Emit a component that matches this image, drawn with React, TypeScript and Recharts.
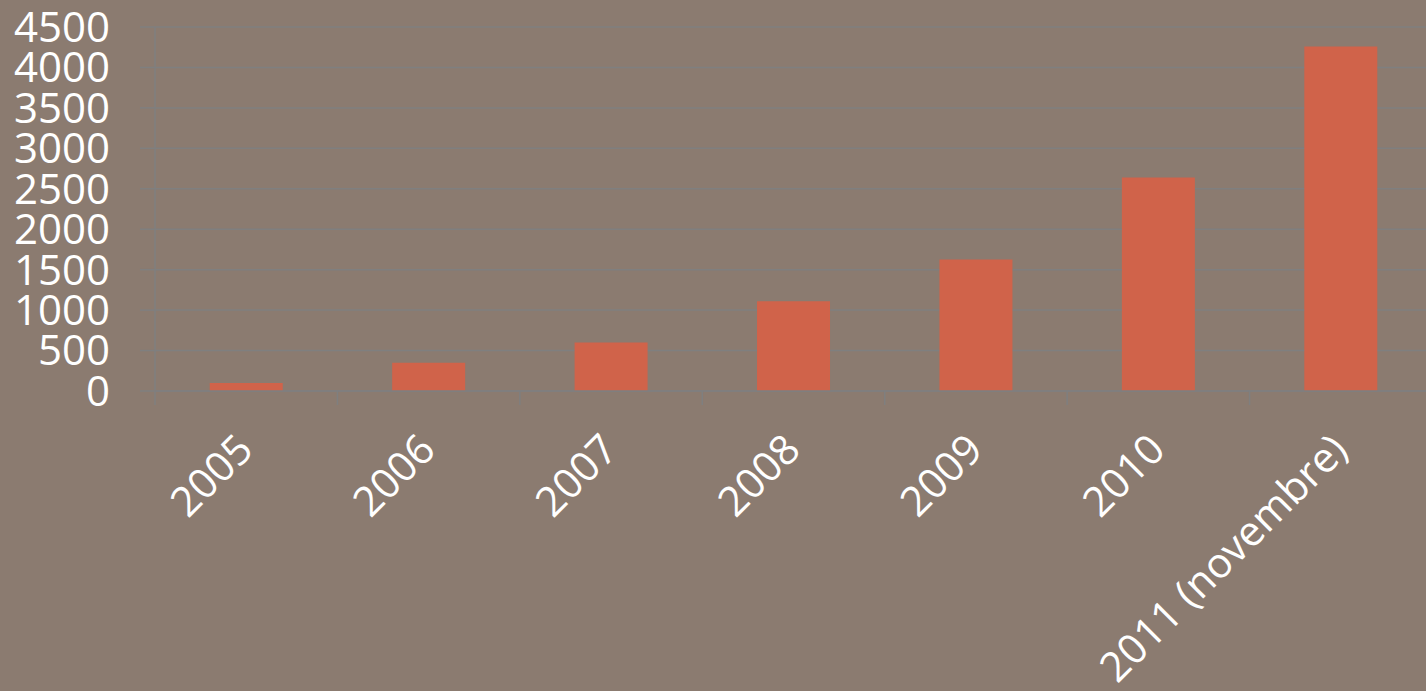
import React from "react";
import { BarChart, Bar, XAxis, YAxis, CartesianGrid } from "recharts";

const categories = ["2005", "2006", "2007", "2008", "2009", "2010", "2011 (novembre)"];
const values = [100, 350, 600, 1110, 1625, 2640, 4260];
const yTicks = [0, 500, 1000, 1500, 2000, 2500, 3000, 3500, 4000, 4500];

const data = categories.map((c, i) => ({ name: c, value: values[i] }));

const BG = "#8B7B70";
const GRID = "#7F7F7F";
const BAR = "#D0634A";
const FONT = "'Open Sans', sans-serif";

const XTick = (props: any) => {
  const { x, y, payload, index } = props;
  const half = payload && payload.offset ? payload.offset : 91.2;
  const ax = x + 9;
  const ay = y + 53;
  return (
    <g>
      <line x1={x - half} y1={y - 8} x2={x - half} y2={y + 6} stroke={GRID} strokeWidth={1.5} />
      {index === categories.length - 1 ? (
        <line x1={x + half} y1={y - 8} x2={x + half} y2={y + 6} stroke={GRID} strokeWidth={1.5} />
      ) : null}
      <text
        x={ax}
        y={ay}
        transform={`rotate(-45, ${ax}, ${ay})`}
        textAnchor="end"
        fill="#FFFFFF"
        fontSize={41.5}
        fontFamily={FONT}
      >
        {payload.value}
      </text>
    </g>
  );
};

export default function App() {
  return (
    <div
      style={{
        position: "fixed",
        left: 0,
        top: 0,
        width: 1426,
        height: 691,
        overflow: "hidden",
        background: BG,
      }}
    >
      <BarChart
        width={1440}
        height={691}
        data={data}
        margin={{ top: 27, right: 8, left: 0, bottom: 0 }}
        barCategoryGap="30%"
      >
        <CartesianGrid vertical={false} stroke={GRID} strokeWidth={1.5} />
        <XAxis
          dataKey="name"
          interval={0}
          height={300}
          axisLine={{ stroke: GRID, strokeWidth: 1.5 }}
          tickLine={false}
          tick={<XTick />}
        />
        <YAxis
          width={155}
          domain={[0, 4500]}
          ticks={yTicks}
          interval={0}
          axisLine={{ stroke: GRID, strokeWidth: 1.5 }}
          tickLine={{ stroke: GRID, strokeWidth: 1.5 }}
          tickSize={15}
          tickMargin={30}
          tick={{ fill: "#FFFFFF", fontSize: 42, fontFamily: FONT }}
        />
        <Bar dataKey="value" fill={BAR} isAnimationActive={false} />
      </BarChart>
    </div>
  );
}
